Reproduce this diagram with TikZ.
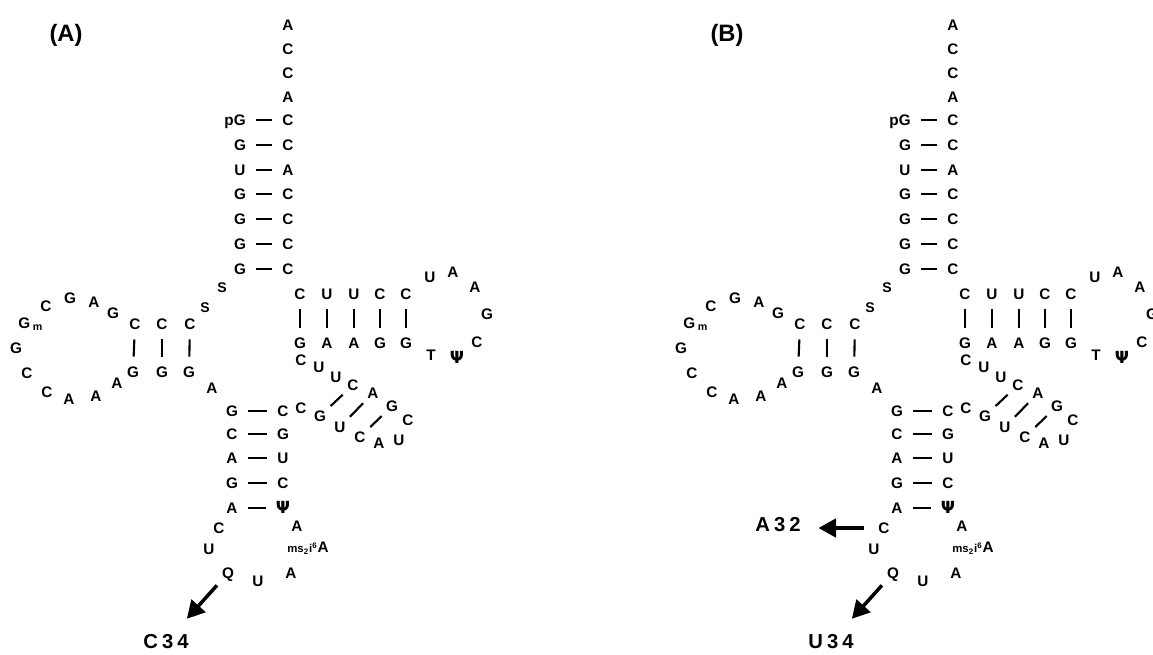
\documentclass[tikz,border=0pt]{standalone}
\usepackage{fontspec}
\setmainfont{Liberation Sans}
\newfontfamily\psifont{DejaVu Sans}
\usetikzlibrary{arrows.meta}

\newcommand{\pseudo}{{\psifont\fontsize{9.5}{10}\selectfont Ψ}}
\newcommand{\msA}{{\fontsize{6.5}{7}\selectfont ms\textsubscript{2}i\textsuperscript{6}}A}

\begin{document}
\begin{tikzpicture}[x=0.02cm, y=-0.02cm,
  nt/.style={font=\fontsize{8.7}{9}\selectfont\bfseries, inner sep=0pt, text height=6.2pt, text depth=0pt},
  sm/.style={font=\fontsize{8}{9}\selectfont\bfseries, inner sep=0pt},
  pair/.style={line width=1.2pt, shorten >=#1, shorten <=#1}, pair/.default=5.5pt,
  big arrow/.style={line width=2pt, -{Triangle[length=10pt,width=10.5pt]}},
  tag/.style={font=\fontsize{11.5}{12}\selectfont\bfseries\addfontfeature{LetterSpace=20}, inner sep=0pt},
  panel/.style={font=\fontsize{13.5}{14}\selectfont\bfseries, inner sep=0pt}]
\useasboundingbox (0,0) rectangle (1153,654);

\foreach \pan/\dx/\ttl/\tx/\tg in {a/0/A/66/C34, b/665/B/727/U34} {
\node[panel] (\pan-title) at (\tx,35) {(\ttl)};
\begin{scope}[shift={(\dx,0)}]

% acceptor stem
\foreach \b [count=\i] in {A,C,C,A} \node[nt] (\pan-t\i) at (288,{1+24*\i}) {\b};
\foreach \b [count=\i] in {C,C,A,C,C,C,C} \node[nt] (\pan-r\i) at (288,{95+24.85*\i}) {\b};
\node[nt, anchor=east] (\pan-l1) at (246,{95+24.85}) {pG};
\foreach \b [count=\i from 2] in {G,U,G,G,G,G} \node[nt] (\pan-l\i) at (240,{95+24.85*\i}) {\b};
\foreach \i in {1,...,7} \draw[pair] (\pan-l\i) -- (\pan-r\i);

\node[sm] (\pan-s1) at (222,288) {S};
\node[sm] (\pan-s2) at (205,308) {S};

% D arm
\foreach \b/\c/\x/\xx [count=\i] in {C/G/135/133, C/G/162/162, C/G/190/189} {
  \node[nt] (\pan-dt\i) at (\x,324) {\b};
  \node[nt] (\pan-db\i) at (\xx,372) {\c};
  \draw[pair=5.5pt] (\pan-dt\i) -- (\pan-db\i);
}
\foreach \b/\x/\y [count=\i] in {G/113/313, A/94/302, G/70/298, C/46/306, G/16/348, C/27/373, C/47/392, A/69/399, A/96/396, A/117/383}
  \node[nt] (\pan-d\i) at (\x,\y) {\b};
\node[nt, anchor=west] (\pan-gm) at (18,323) {G\,\textsubscript{m}};
\node[nt] (\pan-a9) at (212,388) {A};

% T arm
\foreach \b/\c/\x [count=\i] in {C/G/300, U/A/327, U/A/354, C/G/380, C/G/406} {
  \node[nt] (\pan-tt\i) at (\x,294) {\b};
  \node[nt] (\pan-tb\i) at (\x,343) {\c};
  \draw[pair=5.5pt] (\pan-tt\i) -- (\pan-tb\i);
}
\foreach \b/\x/\y [count=\i] in {U/430/277, A/453/272, A/475/287, G/487/314, C/477/342, \pseudo/457/358, T/431/355}
  \node[nt] (\pan-tl\i) at (\x,\y) {\b};

% variable loop
\foreach \b/\x/\y [count=\i] in {C/301/360, U/319/367, U/336/377, C/353/385, A/373/393, G/392/406, C/408/420, U/399/440, A/379/443, C/360/437, U/340/427, G/320/416, C/301/408}
  \node[nt] (\pan-v\i) at (\x,\y) {\b};
\foreach \i/\j in {4/12, 5/11, 6/10} \draw[pair=3.5pt] (\pan-v\i) -- (\pan-v\j);

% anticodon arm
\foreach \b/\c/\y [count=\i] in {G/C/411, C/G/434, A/U/458, G/C/483, A/\pseudo/508} {
  \node[nt] (\pan-al\i) at (232,\y) {\b};
  \node[nt] (\pan-ar\i) at (283,\y) {\c};
  \draw[pair] (\pan-al\i) -- (\pan-ar\i);
}
\foreach \b/\x/\y [count=\i] in {C/219/528, U/209/549, Q/228/573, U/258/581, A/291/573, A/297/526}
  \node[nt] (\pan-k\i) at (\x,\y) {\b};
\node[nt, anchor=east] (\pan-ms) at (329,547) {\msA};

\node[tag] (\pan-tag) at (166,642) {\tg};
\draw[big arrow, shorten <=5pt, shorten >=12pt] (\pan-k3) -- (\pan-tag);
\end{scope}
}

\node[tag] (b-a32) at (778,525) {A32};
\draw[big arrow, shorten <=8pt, shorten >=10pt] (b-k1.west) -- (b-k1.west -| b-a32.east);

\end{tikzpicture}
\end{document}
